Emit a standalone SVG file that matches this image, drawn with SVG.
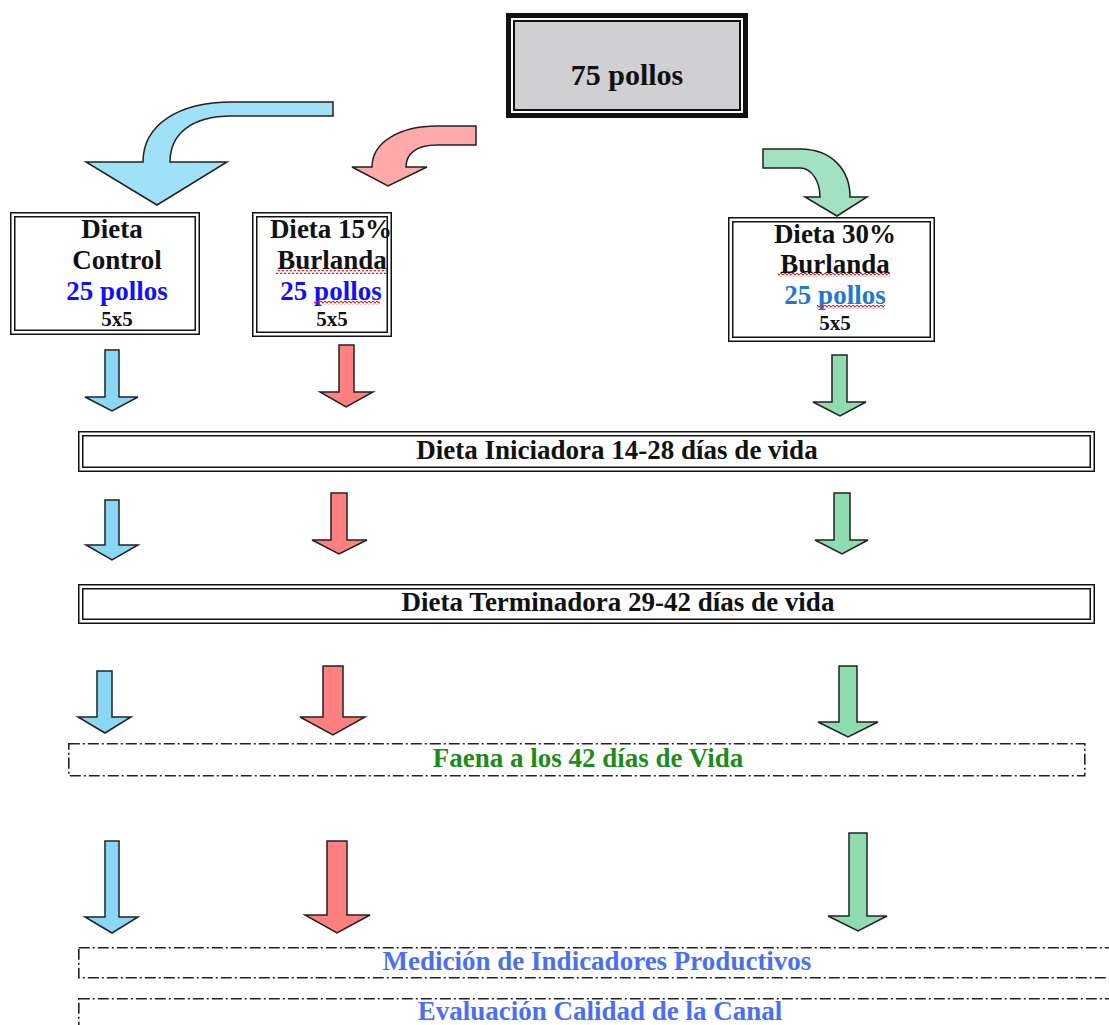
<svg xmlns="http://www.w3.org/2000/svg" width="1109" height="1025" viewBox="0 0 1109 1025">
<style>
text{font-family:"Liberation Serif","Times New Roman",serif;font-weight:bold;text-anchor:middle}
.t{font-size:27px;fill:#111}
.s{font-size:21px;fill:#111}
.bl{fill:#1010ff}
.bl2{fill:#1e78d2}
.bl3{fill:#4a6ff2}
.gr{fill:#1c8c1c}
.frame{fill:none;stroke:#111;stroke-width:1.5}
.dd{fill:none;stroke:#222;stroke-width:1.6;stroke-dasharray:11 3 2 3}
.ab{fill:#8ad8f6;stroke:#222;stroke-width:1.5;stroke-linejoin:miter}
.ar{fill:#ff8080;stroke:#222;stroke-width:1.5}
.ag{fill:#8edcb0;stroke:#222;stroke-width:1.5}
.cb{fill:#9fe1f7;stroke:#222;stroke-width:1.5}
.cr{fill:#ffaaaa;stroke:#222;stroke-width:1.5}
.cg{fill:#a2e2c0;stroke:#222;stroke-width:1.5}
</style>
<defs>
<pattern id="wavy" patternUnits="userSpaceOnUse" width="4" height="4">
<path d="M0 2 Q1 0.3 2 2 T4 2" fill="none" stroke="#e02020" stroke-width="1.3"/>
</pattern>
</defs>
<rect width="1109" height="1025" fill="#fff"/>

<g id="node-75">
<rect x="508.5" y="15.5" width="237" height="100" fill="none" stroke="#111" stroke-width="5"/>
<rect x="514" y="21" width="226" height="89" fill="#d0cfd1" stroke="#111" stroke-width="2"/>
<text x="627" y="85" style="font-size:30px;fill:#111">75 pollos</text>
</g>

<g id="node-control">
<rect class="frame" x="10.75" y="212.75" width="188.5" height="121.5"/>
<rect class="frame" x="14.75" y="216.75" width="180.5" height="113.5"/>
<text class="t" x="112" y="238">Dieta</text>
<text class="t" x="117" y="269">Control</text>
<text class="t bl" x="117" y="300">25 pollos</text>
<text class="s" x="117" y="326">5x5</text>
</g>

<g id="node-15">
<rect class="frame" x="252.75" y="212.75" width="138.5" height="123.5"/>
<rect class="frame" x="256.75" y="216.75" width="130.5" height="115.5"/>
<text class="t" x="331" y="238">Dieta 15%</text>
<text class="t" x="332" y="269">Burlanda</text>
<text class="t bl" x="331" y="300">25 pollos</text>
<text class="s" x="332" y="326">5x5</text>
<rect x="276" y="270" width="111" height="4" fill="url(#wavy)"/>
<rect x="314" y="301" width="66" height="4" fill="url(#wavy)"/>
</g>

<g id="node-30">
<rect class="frame" x="728.75" y="217.75" width="205.5" height="123.5"/>
<rect class="frame" x="732.75" y="221.75" width="197.5" height="115.5"/>
<text class="t" x="835" y="243">Dieta 30%</text>
<text class="t" x="835" y="273">Burlanda</text>
<text class="t bl2" x="835" y="304">25 pollos</text>
<text class="s" x="835" y="330">5x5</text>
<rect x="778" y="273" width="112" height="4" fill="url(#wavy)"/>
<rect x="817" y="305" width="68" height="4" fill="url(#wavy)"/>
</g>

<g id="node-iniciadora">
<rect class="frame" x="78.75" y="431.75" width="1015.5" height="39.5"/>
<rect class="frame" x="82.75" y="435.75" width="1007.5" height="31.5"/>
<text class="t" x="617" y="459">Dieta Iniciadora 14-28 días de vida</text>
</g>

<g id="node-terminadora">
<rect class="frame" x="78.75" y="584.75" width="1015.5" height="38.5"/>
<rect class="frame" x="82.75" y="588.75" width="1007.5" height="30.5"/>
<text class="t" x="618" y="611">Dieta Terminadora 29-42 días de vida</text>
</g>

<g id="node-faena">
<rect class="dd" x="68.8" y="743.8" width="1016" height="32"/>
<text class="t gr" x="588" y="767">Faena a los 42 días de Vida</text>
</g>

<g id="node-medicion">
<rect class="dd" x="78.8" y="947.8" width="1040" height="30"/>
<text class="t bl3" x="597" y="970">Medición de Indicadores Productivos</text>
</g>

<g id="node-evaluacion">
<rect class="dd" x="78.8" y="998.8" width="1040" height="60"/>
<text class="t bl3" x="600" y="1020">Evaluación Calidad de la Canal</text>
</g>

<g id="connectors">
<path class="cb" d="M333 102 L232 102 C178 102 143 125 143 162 L86 162 L157 205 L227 162 L170 162 C170 135 190 116 232 116 L333 116 Z"/>
<path class="cr" d="M476 126 L437 126 C400 126 372 142 372 167 L352 167 L388 186 L427 167 L406 167 C406 154 416 145 437 145 L476 145 Z"/>
<path class="cg" d="M763 149 L800 149 C832 149 850 170 850 197 L867 197 L837 216 L805 197 L820 197 C820 182 812 168 800 168 L763 168 Z"/>

<polygon class="ab" points="105,350 119,350 119,397 138,397 112,411 85,397 105,397"/>
<polygon class="ar" points="339,345 354,345 354,392 373,392 346,407 320,392 339,392"/>
<polygon class="ag" points="832,355 847,355 847,402 866,402 840,416 813,402 832,402"/>

<polygon class="ab" points="105,500 119,500 119,545 138,545 112,560 86,545 105,545"/>
<polygon class="ar" points="331,493 347,493 347,540 367,540 339,554 312,540 331,540"/>
<polygon class="ag" points="834,493 850,493 850,540 868,540 842,554 815,540 834,540"/>

<polygon class="ab" points="97,671 112,671 112,717 131,717 105,733 78,717 97,717"/>
<polygon class="ar" points="323,666 343,666 343,717 365,717 333,735 300,717 323,717"/>
<polygon class="ag" points="839,666 857,666 857,722 878,722 848,737 818,722 839,722"/>

<polygon class="ab" points="105,841 119,841 119,917 138,917 112,933 85,917 105,917"/>
<polygon class="ar" points="327,841 347,841 347,915 370,915 337,933 305,915 327,915"/>
<polygon class="ag" points="849,833 867,833 867,916 887,916 858,931 828,916 849,916"/>
</g>
</svg>
